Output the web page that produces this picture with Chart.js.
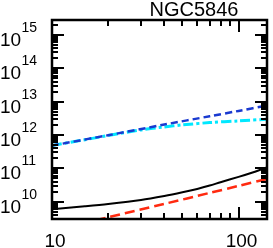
<!DOCTYPE html>
<html>
<head>
<meta charset="utf-8">
<script src="https://cdn.jsdelivr.net/npm/chart.js@4"></script>
<style>
  body { margin: 0; background: #fff; }
  #wrap { width: 273px; height: 248px; }
</style>
</head>
<body>
<div id="wrap"><canvas id="graphCanvas" width="273" height="248"></canvas></div>
<script>
// Values (log10 of y)
const title = 'NGC5846';
const xBlack = [10, 15, 20, 30, 40, 50, 60, 70, 80, 100, 120, 142];
const logBlack = [9.77, 9.86, 9.93, 10.05, 10.17, 10.28, 10.38, 10.48, 10.58, 10.74, 10.88, 11.02];
const xRed = [10, 20, 40, 70, 100, 142];
const logRed = [9.12, 9.53, 9.93, 10.26, 10.47, 10.68];
const xBlue = [10, 20, 40, 70, 100, 142];
const logBlue = [11.68, 11.99, 12.31, 12.56, 12.72, 12.88];
const xCyan = [10, 20, 30, 40, 50, 70, 100, 142];
const logCyan = [11.68, 11.98, 12.15, 12.24, 12.30, 12.37, 12.42, 12.47];
const xTickLabels = [10, 100];
const yTickExps = [10, 11, 12, 13, 14, 15];

const toPoints = (xs, ls) => xs.map((x, i) => ({ x: x, y: Math.pow(10, ls[i]) }));

const font = '"Liberation Sans", Arial, sans-serif';

// frame, inward ticks on all sides, labels with superscripts
const framePlugin = {
    id: 'frame',
    afterDraw(chart) {
        const ctx = chart.ctx;
        const a = chart.chartArea;
        const xs = chart.scales.x, ys = chart.scales.y;
        ctx.save();
        ctx.strokeStyle = '#000';
        ctx.lineWidth = 2;
        ctx.lineCap = 'butt';
        // x ticks
        for (let d = 10; d <= 100; d *= 10) {
            for (let m = 1; m <= 9; m++) {
                const v = d * m;
                if (v < xs.min || v > xs.max) continue;
                const px = Math.round(xs.getPixelForValue(v));
                const len = m === 1 ? 12 : 6;
                ctx.beginPath();
                ctx.moveTo(px, a.bottom); ctx.lineTo(px, a.bottom - len);
                ctx.moveTo(px, a.top); ctx.lineTo(px, a.top + len);
                ctx.stroke();
            }
        }
        // y ticks
        for (let e = 9; e <= 15; e++) {
            for (let m = 1; m <= 9; m++) {
                const v = m * Math.pow(10, e);
                if (v < ys.min || v > ys.max) continue;
                const py = Math.round(ys.getPixelForValue(v));
                const len = m === 1 ? 12 : 6;
                ctx.beginPath();
                ctx.moveTo(a.left, py); ctx.lineTo(a.left + len, py);
                ctx.moveTo(a.right, py); ctx.lineTo(a.right - len, py);
                ctx.stroke();
            }
        }
        ctx.lineWidth = 2.5;
        ctx.strokeRect(a.left, a.top, a.right - a.left, a.bottom - a.top);

        ctx.fillStyle = '#000';
        ctx.textBaseline = 'alphabetic';
        // x labels
        ctx.font = '19px ' + font;
        ctx.textAlign = 'center';
        xTickLabels.forEach(v => {
            ctx.fillText(String(v), xs.getPixelForValue(v) + 3, 247);
        });
        // y labels
        yTickExps.forEach(e => {
            const py = ys.getPixelForValue(Math.pow(10, e));
            ctx.textAlign = 'left';
            ctx.font = '19px ' + font;
            ctx.fillText('10', 0, py + 11);
            ctx.font = '14px ' + font;
            ctx.fillText(String(e), 21.5, py - 3);
        });
        // title
        ctx.font = '20px ' + font;
        ctx.textAlign = 'center';
        ctx.fillText(title, 194, 16);
        ctx.restore();
    }
};

const ctx = document.getElementById('graphCanvas').getContext('2d');
new Chart(ctx, {
    type: 'line',
    data: {
        datasets: [
            { data: toPoints(xBlack, logBlack), borderColor: '#000000', borderWidth: 2 },
            { data: toPoints(xRed, logRed), borderColor: '#ff2a10', borderWidth: 2.5, borderDash: [10, 5] },
            { data: toPoints(xBlue, logBlue), borderColor: '#1a3ad0', borderWidth: 2.5, borderDash: [7, 4] },
            { data: toPoints(xCyan, logCyan), borderColor: '#00e8ff', borderWidth: 3, borderDash: [10, 3, 3, 3] }
        ]
    },
    options: {
        responsive: false,
        animation: false,
        layout: { padding: { left: 52, right: 6, top: 20, bottom: 29 } },
        elements: { point: { radius: 0 }, line: { tension: 0.3, fill: false } },
        plugins: { legend: { display: false }, tooltip: { enabled: false } },
        scales: {
            x: { type: 'logarithmic', min: 10, max: 142, display: false },
            y: { type: 'logarithmic', min: 3e9, max: 2.8e15, display: false }
        }
    },
    plugins: [framePlugin]
});
</script>
</body>
</html>
